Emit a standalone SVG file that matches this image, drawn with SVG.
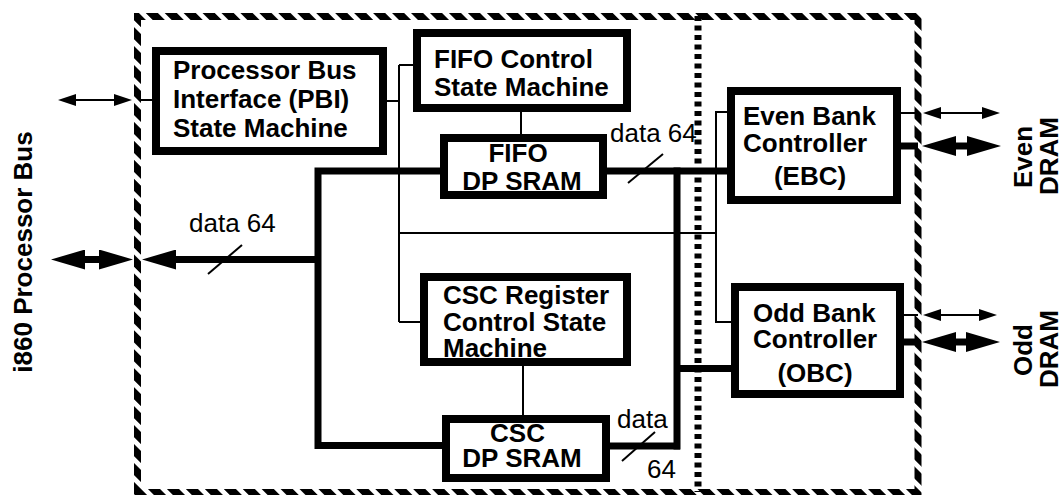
<svg xmlns="http://www.w3.org/2000/svg" width="1064" height="495" viewBox="0 0 1064 495">
<defs>
<style>
.box{fill:#fff;stroke:#000;stroke-width:8}
.thin{fill:none;stroke:#000;stroke-width:2}
.thick{fill:none;stroke:#000;stroke-width:7}
.b{font-family:"Liberation Sans",Arial,sans-serif;font-weight:bold;font-size:26px;fill:#000}
.r{font-family:"Liberation Sans",Arial,sans-serif;font-size:26px;fill:#000}
.m{text-anchor:middle}
</style>
<pattern id="hatch" patternUnits="userSpaceOnUse" width="13.4" height="13.4" patternTransform="rotate(-45)">
<rect x="0" y="0" width="8.6" height="13.4" fill="#000"/>
</pattern>
<marker id="ah" markerUnits="userSpaceOnUse" viewBox="0 0 34 20" refX="0" refY="10" markerWidth="34" markerHeight="20" orient="auto-start-reverse">
<path d="M0,0 L34,10 L0,20 Z" fill="#000"/>
</marker>
<marker id="at" markerUnits="userSpaceOnUse" viewBox="0 0 18 12" refX="0" refY="6" markerWidth="18" markerHeight="12" orient="auto-start-reverse">
<path d="M0,0 L18,6 L0,12 Z" fill="#000"/>
</marker>
</defs>
<rect width="1064" height="495" fill="#fff"/>
<g id="boundary">
<rect x="137.5" y="16.5" width="780.5" height="476" fill="none" stroke="url(#hatch)" stroke-width="7"/>
<line x1="698" y1="16" x2="698" y2="492" stroke="#000" stroke-width="7" stroke-dasharray="5 4.5"/>
</g>
<g id="connectors">
<path class="thin" d="M141,100 H152"/>
<path class="thin" d="M387,101 H399"/>
<path class="thin" d="M399,65 V322"/>
<path class="thin" d="M399,65 H413"/>
<path class="thin" d="M399,322 H420"/>
<path class="thin" d="M399,233 H716"/>
<path class="thin" d="M727,112 H716 V322 H731"/>
<path class="thin" d="M521,112 V134"/>
<path class="thin" d="M523,366 V415"/>
<path class="thin" d="M901,113 H918"/>
<path class="thin" d="M904,315 H918"/>
<path class="thick" d="M440,171 H318 V445.5 H442"/>
<path class="thick" d="M318,259.5 H176" marker-end="url(#ah)"/>
<path class="thick" d="M607,171 H727"/>
<path class="thick" d="M677,167.5 V449.5"/>
<path class="thick" d="M610,446 H680"/>
<path class="thick" d="M677,368.5 H731"/>
<path class="thick" d="M901,146 H918"/>
<path class="thick" d="M904,342 H918"/>
<path class="thin" d="M76,100 H114" marker-start="url(#at)" marker-end="url(#at)"/>
<path class="thick" d="M85,259.5 H99" marker-start="url(#ah)" marker-end="url(#ah)"/>
<path class="thin" d="M941,113 H982" marker-start="url(#at)" marker-end="url(#at)"/>
<path class="thick" d="M956,146 H967" marker-start="url(#ah)" marker-end="url(#ah)"/>
<path class="thin" d="M941,315 H979" marker-start="url(#at)" marker-end="url(#at)"/>
<path class="thick" d="M956,342 H966" marker-start="url(#ah)" marker-end="url(#ah)"/>
<line class="thin" x1="208" y1="274" x2="242" y2="245"/>
<line class="thin" x1="628" y1="183" x2="663" y2="154"/>
<line class="thin" x1="622" y1="461" x2="655" y2="432"/>
<text class="r" x="189" y="232">data 64</text>
<text class="r" x="610" y="142">data 64</text>
<text class="r" x="617" y="428">data</text>
<text class="r" x="647" y="478">64</text>
</g>
<g id="pbi">
<rect class="box" x="156" y="51" width="227" height="100"/>
<text class="b" x="173" y="79">Processor Bus</text>
<text class="b" x="173" y="108">Interface (PBI)</text>
<text class="b" x="173" y="137">State Machine</text>
</g>
<g id="fifo-control">
<rect class="box" x="417" y="33" width="210" height="75"/>
<text class="b" x="434" y="68">FIFO Control</text>
<text class="b" x="434" y="96">State Machine</text>
</g>
<g id="fifo-sram">
<rect class="box" x="444" y="138" width="159" height="57"/>
<text class="b m" x="518" y="162">FIFO</text>
<text class="b m" x="522" y="190">DP SRAM</text>
</g>
<g id="csc-register">
<rect class="box" x="424" y="277" width="203" height="85"/>
<text class="b" x="443" y="304">CSC Register</text>
<text class="b" x="443" y="331">Control State</text>
<text class="b" x="443" y="357">Machine</text>
</g>
<g id="csc-sram">
<rect class="box" x="446" y="419" width="160" height="59"/>
<text class="b m" x="517.5" y="442">CSC</text>
<text class="b m" x="522" y="467">DP SRAM</text>
</g>
<g id="ebc">
<rect class="box" x="731" y="91" width="166" height="109"/>
<text class="b" x="743" y="125">Even Bank</text>
<text class="b" x="743" y="152">Controller</text>
<text class="b m" x="810" y="185">(EBC)</text>
</g>
<g id="obc">
<rect class="box" x="735" y="287" width="165" height="107"/>
<text class="b" x="753" y="322">Odd Bank</text>
<text class="b" x="753" y="348">Controller</text>
<text class="b m" x="815" y="382">(OBC)</text>
</g>
<g id="labels">
<text class="b m" transform="translate(32,252) rotate(-90)">i860 Processor Bus</text>
<text class="b m" transform="translate(1032,157) rotate(-90)">Even</text>
<text class="b m" transform="translate(1058,156) rotate(-90)">DRAM</text>
<text class="b m" transform="translate(1032,350) rotate(-90)">Odd</text>
<text class="b m" transform="translate(1058,349) rotate(-90)">DRAM</text>
</g>
</svg>
